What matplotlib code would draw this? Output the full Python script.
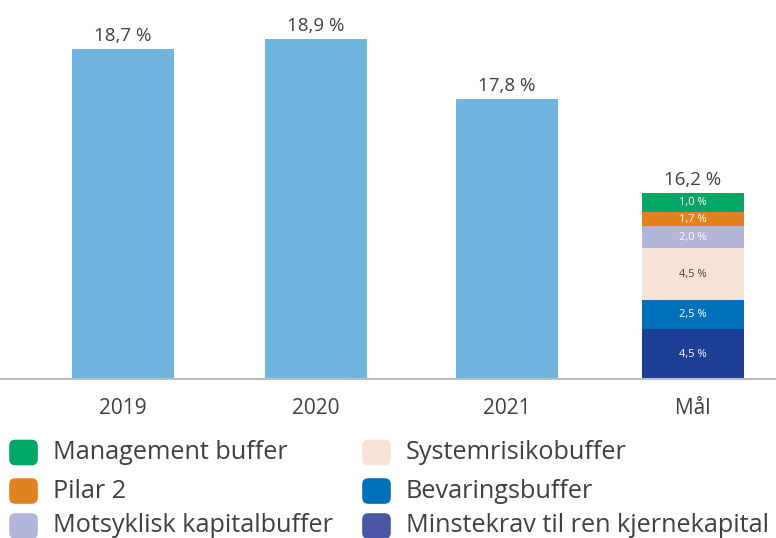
import matplotlib.pyplot as plt
from matplotlib.patches import FancyBboxPatch

plt.rcParams['font.family'] = ['Open Sans', 'DejaVu Sans']

# categories and printed values
years = ['2019', '2020', '2021']
year_values = [18.7, 18.9, 17.8]
# bar heights as drawn in the source (the source chart is not to scale)
year_heights = [330, 340, 280]

target_label = 'Mål'
target_total = 16.2
segment_names = ['Minstekrav til ren kjernekapital', 'Bevaringsbuffer', 'Systemrisikobuffer',
                 'Motsyklisk kapitalbuffer', 'Pilar 2', 'Management buffer']
segment_values = [4.5, 2.5, 4.5, 2.0, 1.7, 1.0]
segment_heights = [50, 29, 52, 21.6, 14.4, 18.6]
segment_colors = ['#1F3F97', '#0070BA', '#F6E3D6', '#B3B5DA', '#E0821E', '#00A767']
segment_text = ['white', 'white', '#444444', 'white', 'white', 'white']
legend_colors = {'Minstekrav til ren kjernekapital': '#4A56A6'}

text_col = '#404040'

fig = plt.figure(figsize=(7.76, 5.38), dpi=100)
ax = fig.add_axes([0, 1 - 379 / 538, 1, 379 / 538])

w = 0.537
xs = [0, 1.015, 2.02]
bars = ax.bar(xs, year_heights, width=w, color='#6FB5E0')
for b, v in zip(bars, year_values):
    ax.annotate(f'{v:.1f} %'.replace('.', ','), (b.get_x() + b.get_width() / 2, b.get_height()),
                xytext=(0, 3), textcoords='offset points', ha='center', va='bottom',
                fontsize=13.5, color=text_col)

xm = 3
bottom = 0
for h, v, c, tc in zip(segment_heights, segment_values, segment_colors, segment_text):
    ax.bar(xm, h, bottom=bottom, width=w, color=c)
    ax.text(xm, bottom + h / 2, f'{v:.1f} %'.replace('.', ','), ha='center', va='center',
            fontsize=8, color=tc)
    bottom += h
ax.annotate(f'{target_total:.1f} %'.replace('.', ','), (xm, bottom), xytext=(0, 3),
            textcoords='offset points', ha='center', va='bottom', fontsize=13.5, color=text_col)

ax.set_xlim(-123 / 190, 3 + 83 / 190)
ax.set_ylim(0, 379)
ax.set_xticks(xs + [xm])
ax.set_xticklabels(years + [target_label], fontsize=15, color=text_col)
ax.tick_params(axis='x', length=0, pad=14)
ax.set_yticks([])
for s in ['top', 'left', 'right']:
    ax.spines[s].set_visible(False)
ax.spines['bottom'].set_color('#BDBDBD')
ax.spines['bottom'].set_linewidth(1.5)

# legend, two columns
order = [['Management buffer', 'Pilar 2', 'Motsyklisk kapitalbuffer'],
         ['Systemrisikobuffer', 'Bevaringsbuffer', 'Minstekrav til ren kjernekapital']]
col_x = [11, 364]
row_y = [452.5, 491, 526]
W, H = 776, 538
for ci, col in enumerate(order):
    for ri, name in enumerate(col):
        c = legend_colors.get(name, segment_colors[segment_names.index(name)])
        x0, y0 = col_x[ci], row_y[ri]
        p = FancyBboxPatch(((x0 + 2) / W, 1 - (y0 + 9) / H), 21 / W, 18 / H,
                           boxstyle='round,pad=0.004,rounding_size=0.007',
                           transform=fig.transFigure, color=c, mutation_aspect=W / H)
        fig.patches.append(p)
        fig.text((x0 + 42) / W, 1 - y0 / H, name, fontsize=18.2, color=text_col,
                 va='center', ha='left')

fig.savefig('out.png', dpi=100)
